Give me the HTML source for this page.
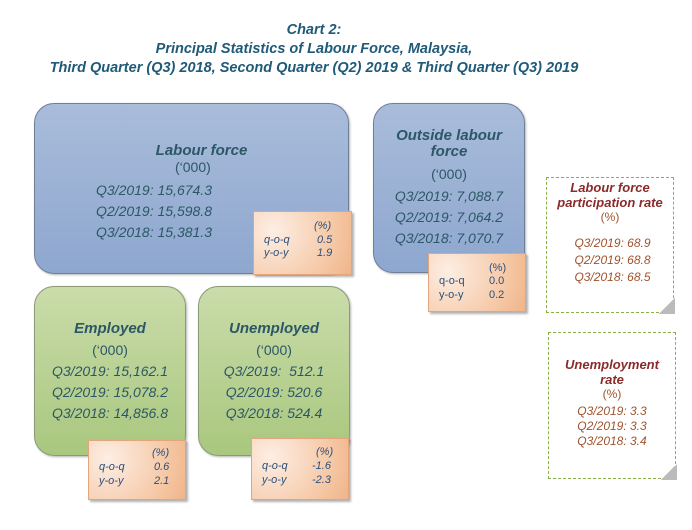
<!DOCTYPE html>
<html><head><style>
body{margin:0;width:692px;height:530px;background:#fff;position:relative;overflow:hidden;font-family:"Liberation Sans",sans-serif;}
.a{position:absolute}
.t{color:#1f5a78;font-weight:bold;font-style:italic;font-size:14.5px;text-align:center;line-height:19px;}
.box{position:absolute;border:1.5px solid #6f7f96;border-radius:20px;box-sizing:border-box;color:#2c5766;text-align:center;font-size:14px;box-shadow:1px 1px 2px rgba(0,0,0,.3);}
.blue{background:linear-gradient(#a9bcda,#8ea7cf);border-color:#6f7f96}
.green{background:linear-gradient(#cadcaa,#a9c77e);border-color:#8a9a78}
.h{font-weight:bold;font-style:italic;font-size:15px}
.i{font-style:italic}
.or{position:absolute;background:radial-gradient(circle at 20% 30%,#fdeee4,#f5c7a4 70%,#f0b48a);border:1px solid #e4a57c;box-sizing:border-box;box-shadow:2px 2px 2px rgba(0,0,0,.3);font-size:11px;font-style:italic;color:#2c4f7a;}
.or div{position:absolute}
.d{position:absolute;border:1.5px dashed #8ab04c;box-sizing:border-box;text-align:center;color:#a0522d;font-size:12px;font-style:italic;}
.d .h2{color:#8b2a2a;font-weight:bold;font-size:13px}
.fold{position:absolute;right:-2px;bottom:-2px;width:16px;height:16px;background:linear-gradient(135deg,#fff 50%,#bbb 50%);}
</style></head><body>
<div class="a t" style="left:0;width:628px;top:21px">Chart 2:<br>Principal Statistics of Labour Force, Malaysia,<br>Third Quarter (Q3) 2018, Second Quarter (Q2) 2019 &amp; Third Quarter (Q3) 2019</div>

<div class="box blue" style="left:34px;top:103px;width:315px;height:171px">
<div class="a h" style="left:0;width:100%;top:38px;text-align:center;padding-left:10px">Labour force</div>
<div class="a" style="left:140px;top:55px">(‘000)</div>
<div class="a i" style="left:61px;top:76px;text-align:left;line-height:21px">Q3/2019: 15,674.3<br>Q2/2019: 15,598.8<br>Q3/2018: 15,381.3</div>
</div>
<div class="or" style="left:253px;top:211px;width:99px;height:64px">
<div style="left:60px;top:8px">(%)</div><div style="left:10px;top:22px">q-o-q</div><div style="left:63px;top:22px">0.5</div>
<div style="left:10px;top:35px">y-o-y</div><div style="left:63px;top:35px">1.9</div></div>

<div class="box blue" style="left:373px;top:103px;width:152px;height:170px;line-height:21px">
<div class="a h" style="left:0;width:100%;top:24px;line-height:16px">Outside labour<br>force</div>
<div class="a" style="left:0;width:100%;top:60px">(‘000)</div>
<div class="a i" style="left:0;width:100%;top:82px">Q3/2019: 7,088.7<br>Q2/2019: 7,064.2<br>Q3/2018: 7,070.7</div>
</div>
<div class="or" style="left:428px;top:253px;width:98px;height:59px;font-style:normal">
<div style="left:60px;top:8px">(%)</div><div style="left:10px;top:21px">q-o-q</div><div style="left:60px;top:21px">0.0</div>
<div style="left:10px;top:35px">y-o-y</div><div style="left:60px;top:35px">0.2</div></div>

<div class="d" style="left:546px;top:177px;width:128px;height:136px">
<div class="h2" style="margin-top:2px;line-height:15px">Labour force<br>participation rate</div>
<div style="font-style:normal">(%)</div>
<div style="margin-top:11px;line-height:17px;padding-left:5px">Q3/2019: 68.9<br>Q2/2019: 68.8<br>Q3/2018: 68.5</div>
<div class="fold"></div></div>

<div class="box green" style="left:34px;top:286px;width:152px;height:170px;line-height:21px">
<div class="a h" style="left:0;width:100%;top:31px">Employed</div>
<div class="a" style="left:0;width:100%;top:53px">(‘000)</div>
<div class="a i" style="left:0;width:100%;top:74px">Q3/2019: 15,162.1<br>Q2/2019: 15,078.2<br>Q3/2018: 14,856.8</div>
</div>
<div class="or" style="left:88px;top:440px;width:98px;height:60px">
<div style="left:63px;top:6px">(%)</div><div style="left:10px;top:20px">q-o-q</div><div style="left:65px;top:20px">0.6</div>
<div style="left:10px;top:34px">y-o-y</div><div style="left:65px;top:34px">2.1</div></div>

<div class="box green" style="left:198px;top:286px;width:152px;height:170px;line-height:21px">
<div class="a h" style="left:0;width:100%;top:31px">Unemployed</div>
<div class="a" style="left:0;width:100%;top:53px">(‘000)</div>
<div class="a i" style="left:0;width:100%;top:74px">Q3/2019:&nbsp; 512.1<br>Q2/2019: 520.6<br>Q3/2018: 524.4</div>
</div>
<div class="or" style="left:251px;top:438px;width:98px;height:62px">
<div style="left:64px;top:7px">(%)</div><div style="left:10px;top:21px">q-o-q</div><div style="left:60px;top:21px">-1.6</div>
<div style="left:10px;top:35px">y-o-y</div><div style="left:60px;top:35px">-2.3</div></div>

<div class="d" style="left:548px;top:332px;width:128px;height:147px">
<div class="h2" style="margin-top:24px;line-height:15px">Unemployment<br>rate</div>
<div style="font-style:normal">(%)</div>
<div style="margin-top:3px;line-height:15px">Q3/2019: 3.3<br>Q2/2019: 3.3<br>Q3/2018: 3.4</div>
<div class="fold"></div></div>
</body></html>
